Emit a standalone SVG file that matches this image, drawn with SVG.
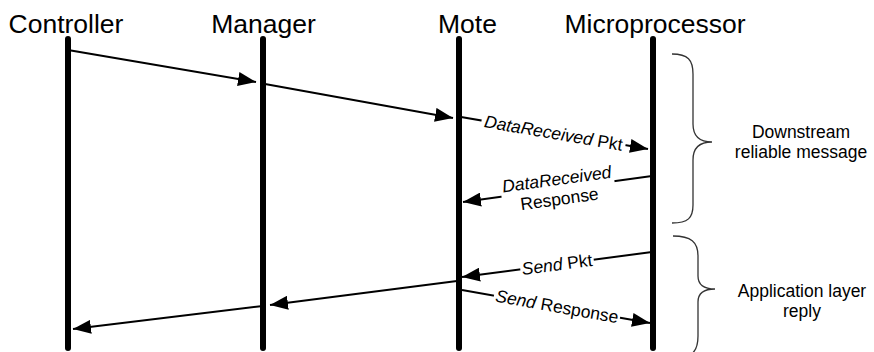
<svg xmlns="http://www.w3.org/2000/svg" width="874" height="352" viewBox="0 0 874 352">
  <style>
    text { font-family: "Liberation Sans", Arial, sans-serif; fill: #000; }
    .head { font-size: 26.5px; text-anchor: middle; }
    .msg { font-size: 17.5px; text-anchor: middle; }
    .note { font-size: 17.5px; text-anchor: middle; }
    .it { font-style: italic; }
    .life { stroke: #000; stroke-width: 6; stroke-linecap: round; fill: none; }
    .arrow { stroke: #000; stroke-width: 2; fill: none; marker-end: url(#head); }
    .gap { fill: #fff; stroke: none; }
    .brace { stroke: #333; stroke-width: 1.3; fill: none; }
  </style>
  <defs>
    <marker id="head" viewBox="0 0 18 14" markerWidth="18" markerHeight="14" refX="18" refY="7" orient="auto" markerUnits="userSpaceOnUse">
      <path d="M0,0 L18,7 L0,14 Z" fill="#000"/>
    </marker>
  </defs>

  <rect width="874" height="352" fill="#fff"/>

  <!-- Lifelines with their titles -->
  <g id="controller">
    <text class="head" x="66" y="33">Controller</text>
    <line class="life" x1="68" y1="39" x2="68" y2="348"/>
  </g>
  <g id="manager">
    <text class="head" x="263.5" y="33">Manager</text>
    <line class="life" x1="263" y1="39" x2="263" y2="348"/>
  </g>
  <g id="mote">
    <text class="head" x="467.5" y="33">Mote</text>
    <line class="life" x1="459" y1="39" x2="459" y2="348"/>
  </g>
  <g id="microprocessor">
    <text class="head" x="655" y="33">Microprocessor</text>
    <line class="life" x1="653" y1="39" x2="653" y2="348"/>
  </g>

  <!-- Messages -->
  <g id="connectors">
    <line class="arrow" x1="68" y1="50" x2="256" y2="82"/>
    <line class="arrow" x1="265" y1="84" x2="453" y2="118"/>

    <line class="arrow" x1="461" y1="117" x2="648" y2="149"/>
    <g transform="translate(553.5,133) rotate(9.7)">
      <rect class="gap" x="-73" y="-9" width="146" height="18"/>
      <text class="msg" x="0" y="6"><tspan class="it">DataReceived</tspan> Pkt</text>
    </g>

    <line class="arrow" x1="652" y1="176" x2="463" y2="202"/>
    <g transform="translate(558,189) rotate(-7.8)">
      <rect class="gap" x="-57" y="-20" width="114" height="40"/>
      <text class="msg" x="0" y="-4"><tspan class="it">DataReceived</tspan></text>
      <text class="msg" x="0" y="16">Response</text>
    </g>

    <line class="arrow" x1="652" y1="252" x2="462" y2="277"/>
    <g transform="translate(557,264.5) rotate(-7.5)">
      <rect class="gap" x="-37" y="-9" width="74" height="18"/>
      <text class="msg" x="0" y="6"><tspan class="it">Send</tspan> Pkt</text>
    </g>

    <line class="arrow" x1="462" y1="290" x2="650" y2="323"/>
    <g transform="translate(557,306.5) rotate(10)">
      <rect class="gap" x="-64" y="-9" width="128" height="18"/>
      <text class="msg" x="0" y="6"><tspan class="it">Send</tspan> Response</text>
    </g>

    <line class="arrow" x1="457" y1="281" x2="270" y2="305"/>
    <line class="arrow" x1="263" y1="306" x2="73" y2="329"/>
  </g>

  <!-- Phase braces and their notes -->
  <g id="downstream">
    <path class="brace" d="M672,54 C688,54 693,60 693,74 L693,124 C693,137 700,142 712,142 C700,142 693,147 693,160 L693,205 C693,218 688,223 672,223"/>
    <text class="note" x="801" y="138">Downstream</text>
    <text class="note" x="801" y="158">reliable message</text>
  </g>
  <g id="reply">
    <path class="brace" d="M673,236 C691,236 698,242 698,256 L698,276 C698,285 704,289 715,289 C704,289 698,293 698,302 L698,336 C698,352 692,358 673,358"/>
    <text class="note" x="802" y="297">Application layer</text>
    <text class="note" x="802" y="317">reply</text>
  </g>
</svg>
